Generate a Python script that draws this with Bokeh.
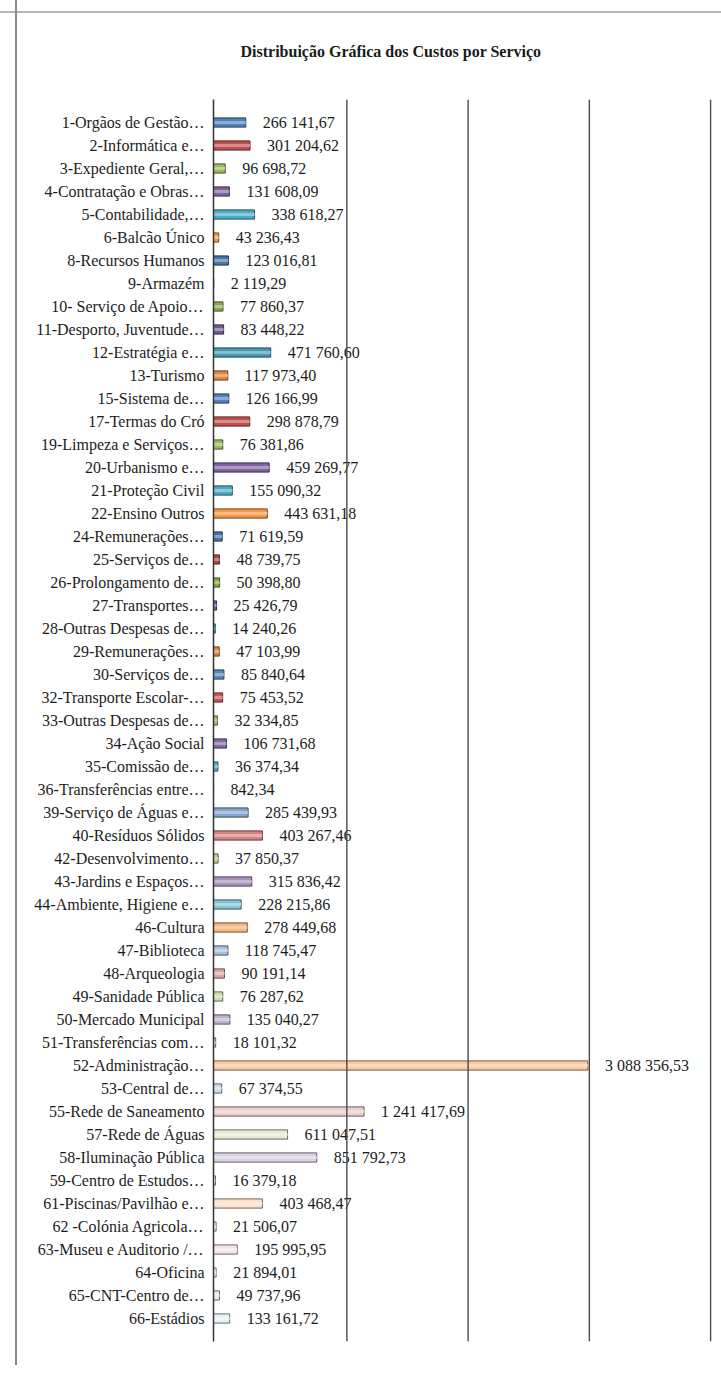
from bokeh.plotting import figure
from bokeh.models import FactorRange, Span, ColumnDataSource, Title
from bokeh.core.properties import value
from bokeh.embed import file_html
from bokeh.resources import INLINE

labels = [
    "1-Orgãos de Gestão…", "2-Informática e…", "3-Expediente Geral,…", "4-Contratação e Obras…",
    "5-Contabilidade,…", "6-Balcão Único", "8-Recursos Humanos", "9-Armazém",
    "10- Serviço de Apoio…", "11-Desporto, Juventude…", "12-Estratégia e…", "13-Turismo",
    "15-Sistema de…", "17-Termas do Cró", "19-Limpeza e Serviços…", "20-Urbanismo e…",
    "21-Proteção Civil", "22-Ensino Outros", "24-Remunerações…", "25-Serviços de…",
    "26-Prolongamento de…", "27-Transportes…", "28-Outras Despesas de…", "29-Remunerações…",
    "30-Serviços de…", "32-Transporte Escolar-…", "33-Outras Despesas de…", "34-Ação Social",
    "35-Comissão de…", "36-Transferências entre…", "39-Serviço de Águas e…", "40-Resíduos Sólidos",
    "42-Desenvolvimento…", "43-Jardins e Espaços…", "44-Ambiente, Higiene e…", "46-Cultura",
    "47-Biblioteca", "48-Arqueologia", "49-Sanidade Pública", "50-Mercado Municipal",
    "51-Transferências com…", "52-Administração…", "53-Central de…", "55-Rede de Saneamento",
    "57-Rede de Águas", "58-Iluminação Pública", "59-Centro de Estudos…", "61-Piscinas/Pavilhão e…",
    "62 -Colónia Agricola…", "63-Museu e Auditorio /…", "64-Oficina", "65-CNT-Centro de…",
    "66-Estádios",
]
values = [
    266141.67, 301204.62, 96698.72, 131608.09, 338618.27, 43236.43, 123016.81, 2119.29,
    77860.37, 83448.22, 471760.60, 117973.40, 126166.99, 298878.79, 76381.86, 459269.77,
    155090.32, 443631.18, 71619.59, 48739.75, 50398.80, 25426.79, 14240.26, 47103.99,
    85840.64, 75453.52, 32334.85, 106731.68, 36374.34, 842.34, 285439.93, 403267.46,
    37850.37, 315836.42, 228215.86, 278449.68, 118745.47, 90191.14, 76287.62, 135040.27,
    18101.32, 3088356.53, 67374.55, 1241417.69, 611047.51, 851792.73, 16379.18, 403468.47,
    21506.07, 195995.95, 21894.01, 49737.96, 133161.72,
]
grid_ticks = [1000000, 2000000, 3000000, 4000000]
title_text = "Distribuição Gráfica dos Custos por Serviço"

SERIF = "'Liberation Serif', 'Times New Roman', serif"

base = ["#4F81BD", "#C0504D", "#9BBB59", "#8064A2", "#4BACC6", "#F79646"]
shade_levels = [0.0, -0.1, 0.0, -0.1, 0.05, 0.3, 0.5, 0.72, 0.85]


def mix(hexc, amt):
    r, g, b = int(hexc[1:3], 16), int(hexc[3:5], 16), int(hexc[5:7], 16)
    if amt >= 0:
        r, g, b = [int(c + (255 - c) * amt) for c in (r, g, b)]
    else:
        r, g, b = [int(c * (1 + amt)) for c in (r, g, b)]
    return "#%02x%02x%02x" % (r, g, b)


fills, lines, highs = [], [], []
for i in range(len(values)):
    c = mix(base[i % 6], shade_levels[min(i // 6, len(shade_levels) - 1)])
    fills.append(c)
    lines.append(mix(c, -0.55))
    highs.append(mix(c, 0.45))


def fmt(v):
    return f"{v:,.2f}".replace(",", " ").replace(".", ",")


src = ColumnDataSource(dict(y=labels, v=values, fill=fills, line=lines, high=highs,
                            txt=[fmt(v) for v in values]))

p = figure(
    width=721, height=1365,
    y_range=FactorRange(factors=list(reversed(labels)), range_padding=0.5,
                        range_padding_units="absolute"),
    x_range=(0, 4190000),
    output_backend="svg", toolbar_location=None,
    min_border_left=213, min_border_right=0, min_border_top=99, min_border_bottom=24,
)
p.border_fill_color = None
p.styles = {
    "background": "linear-gradient(to right, transparent 15px, #8a8a8a 15px, #8a8a8a 17px, transparent 17px), "
                  "linear-gradient(to bottom, transparent 11px, #b4b4b4 11px, #b4b4b4 13px, transparent 13px)",
}

# spacer below the title, then the title itself (added later = further out)
p.add_layout(Title(text=" ", text_font_size="34px", standoff=0), "above")
p.add_layout(Title(text=title_text, text_font=SERIF, text_font_size="16px",
                   text_font_style="bold", text_color="#1a1a1a", align="left",
                   offset=27, standoff=0), "above")

p.outline_line_color = None
p.xgrid.visible = False
p.ygrid.visible = False
p.xaxis.visible = False

depth = 100000
for t in grid_ticks:
    p.add_layout(Span(location=t + depth, dimension="height", line_color="#4a4a4a", line_width=1.4))

p.yaxis.axis_line_color = "#333333"
p.yaxis.axis_line_width = 1.5
p.yaxis.major_tick_line_color = None
p.yaxis.minor_tick_line_color = None
p.yaxis.major_label_text_font = SERIF
p.yaxis.major_label_text_font_size = "16px"
p.yaxis.major_label_text_color = "#1c1c1c"
p.yaxis.major_label_standoff = 3

p.hbar(y="y", left=0, right="v", height=0.4, fill_color="fill", line_color="line",
       line_width=1, source=src)
p.hbar(y="y", left=0, right="v", height=0.12, fill_color="high", line_color=None,
       fill_alpha=0.8, source=src)

p.text(x="v", y="y", text="txt", x_offset=17, text_baseline="middle", text_align="left",
       text_font=value(SERIF), text_font_size="16px", text_color="#1c1c1c",
       source=src)

open("out.html", "w").write(file_html(p, INLINE))
